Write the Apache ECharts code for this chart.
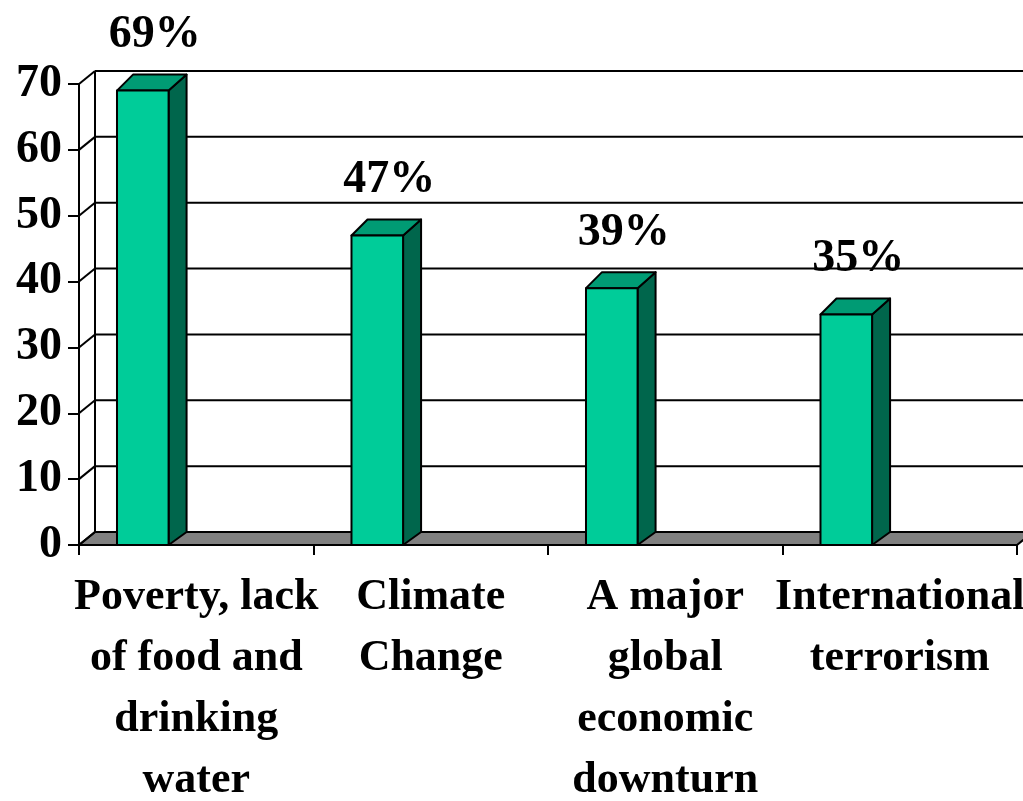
<!DOCTYPE html>
<html>
<head>
<meta charset="utf-8">
<script src="https://cdn.jsdelivr.net/npm/echarts@6/dist/echarts.min.js"></script>
<style>
  html, body { margin: 0; padding: 0; background: #ffffff; }
  #chart { width: 1023px; height: 801px; }
</style>
</head>
<body>
<div id="chart"></div>
<script>
// Share of respondents naming each issue as a serious world problem
const categories = [
  'Poverty, lack\nof food and\ndrinking\nwater',
  'Climate\nChange',
  'A major\nglobal\neconomic\ndownturn',
  'International\nterrorism'
];
const values = [69, 47, 39, 35];
const valueLabels = ['69%', '47%', '39%', '35%'];
const yTickValues = [0, 10, 20, 30, 40, 50, 60, 70];

const FONT = "'Liberation Serif', 'Times New Roman', serif";
const FRONT = '#00CC99';
const SIDE = '#00664C';
const TOP = '#009B74';
const FLOOR = '#808080';
const LINE = '#000000';

// depth of the back wall relative to the front plane
const DEPTH_X = 16;
const DEPTH_Y = -13;

const chart = echarts.init(document.getElementById('chart'));

// back wall, floor and the diagonal tick connectors
function renderFrame(params, api) {
  const bw = api.size([1, 0])[0];
  const left = api.coord([0, 0])[0] - bw / 2;
  const right = api.coord([categories.length - 1, 0])[0] + bw / 2;
  const y0 = api.coord([0, 0])[1];
  const yMax = api.coord([0, yTickValues[yTickValues.length - 1]])[1];
  const children = [];
  const ls = { stroke: LINE, lineWidth: 2, fill: null };

  // floor
  children.push({
    type: 'polygon',
    shape: { points: [[left, y0], [right, y0], [right + DEPTH_X, y0 + DEPTH_Y], [left + DEPTH_X, y0 + DEPTH_Y]] },
    style: { fill: FLOOR, stroke: LINE, lineWidth: 2 }
  });
  // back wall left edge
  children.push({
    type: 'line',
    shape: { x1: left + DEPTH_X, y1: yMax + DEPTH_Y, x2: left + DEPTH_X, y2: y0 + DEPTH_Y },
    style: ls
  });
  yTickValues.forEach(function (v) {
    const y = api.coord([0, v])[1];
    // connector from the front axis to the wall
    children.push({
      type: 'line',
      shape: { x1: left, y1: y, x2: left + DEPTH_X, y2: y + DEPTH_Y },
      style: ls
    });
    // gridline on the back wall
    if (v > 0) {
      children.push({
        type: 'line',
        shape: { x1: left + DEPTH_X, y1: y + DEPTH_Y, x2: right + DEPTH_X + 20, y2: y + DEPTH_Y },
        style: ls
      });
    }
  });
  return { type: 'group', children: children };
}

// one 3D column: front face, side face, top face and its value label
function renderBar(params, api) {
  const idx = api.value(0);
  const val = api.value(1);
  const bw = api.size([1, 0])[0];
  const center = api.coord([idx, 0])[0];
  const bandStart = center - bw / 2;
  const x0 = bandStart + bw * 0.162;
  const x1 = bandStart + bw * 0.382;
  const yb = api.coord([idx, 0])[1];
  const yt = api.coord([idx, val])[1];
  const dx = 18;
  const dyTop = -16;
  const dyBottom = -13;
  const stroke = { stroke: LINE, lineWidth: 2, lineJoin: 'round' };
  return {
    type: 'group',
    children: [
      {
        type: 'polygon',
        shape: { points: [[x1, yb], [x1, yt], [x1 + dx, yt + dyTop], [x1 + dx, yb + dyBottom]] },
        style: Object.assign({ fill: SIDE }, stroke)
      },
      {
        type: 'polygon',
        shape: { points: [[x0, yt], [x1, yt], [x1 + dx, yt + dyTop], [x0 + dx - 2, yt + dyTop]] },
        style: Object.assign({ fill: TOP }, stroke)
      },
      {
        type: 'rect',
        shape: { x: x0, y: yt, width: x1 - x0, height: yb - yt },
        style: Object.assign({ fill: FRONT }, stroke)
      },
      {
        type: 'text',
        x: (x0 + x1) / 2 + 12,
        y: yt - 55,
        style: {
          text: valueLabels[idx],
          fill: '#000000',
          font: 'bold 46px ' + FONT,
          align: 'center',
          verticalAlign: 'middle'
        }
      }
    ]
  };
}

chart.setOption({
  animation: false,
  backgroundColor: '#ffffff',
  grid: { left: 79, right: 6, top: 84, bottom: 256, containLabel: false, outerBoundsMode: 'none' },
  xAxis: {
    type: 'category',
    data: categories,
    boundaryGap: true,
    axisLine: { show: true, lineStyle: { color: LINE, width: 2 } },
    axisTick: { show: true, length: 10, inside: false, alignWithLabel: false, lineStyle: { color: LINE, width: 2 } },
    axisLabel: {
      interval: 0,
      hideOverlap: false,
      margin: 22,
      color: '#000000',
      fontFamily: FONT,
      fontWeight: 'bold',
      fontSize: 44,
      lineHeight: 61,
      align: 'center'
    },
    splitLine: { show: false }
  },
  yAxis: {
    type: 'value',
    min: 0,
    max: 70,
    interval: 10,
    axisLine: { show: true, lineStyle: { color: LINE, width: 2 } },
    axisTick: { show: true, length: 11, lineStyle: { color: LINE, width: 2 } },
    axisLabel: {
      margin: 17,
      color: '#000000',
      fontFamily: FONT,
      fontWeight: 'bold',
      fontSize: 46
    },
    splitLine: { show: false }
  },
  series: [
    {
      type: 'custom',
      renderItem: renderFrame,
      data: [[0, 0]],
      z: 1,
      silent: true
    },
    {
      type: 'custom',
      renderItem: renderBar,
      data: values.map(function (v, i) { return [i, v]; }),
      z: 3,
      silent: true
    }
  ]
});
</script>
</body>
</html>
